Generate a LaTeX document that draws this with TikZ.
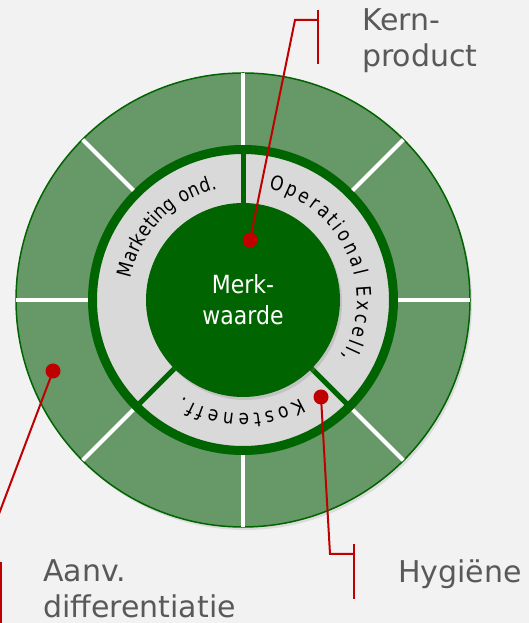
\documentclass[tikz,border=0pt]{standalone}
\usepackage{fontspec}
\setmainfont{DejaVu Sans}
\newfontfamily\narrowfont[FakeStretch=0.88]{DejaVu Sans}
\newfontfamily\ringfamily[FakeStretch=0.85]{DejaVu Sans}
\usetikzlibrary{calc,decorations.text,shadows}
\definecolor{gray1}{RGB}{89,89,89}
\definecolor{gray2}{RGB}{217,217,217}
\definecolor{gray3}{RGB}{242,242,242}
\definecolor{green1}{RGB}{0,100,0}
\definecolor{green2}{RGB}{103,152,103}
\definecolor{red1}{RGB}{192,0,0}
\newcommand{\ringsize}{\ringfamily\fontsize{20}{22}\selectfont}

\begin{document}
\begin{tikzpicture}[x=1pt, y=1pt,
				ringnode/.style=	{circle, inner sep=0pt},
				corenode/.style=	{ringnode, fill=green1, text=white, align=center, font=\narrowfont\fontsize{25}{31}\selectfont},
				spoke/.style=		{draw=white, line width=4pt, shorten >=1pt},
				divider/.style=		{draw=green1, line width=5pt},
				calldot/.style=		{circle, inner sep=0pt, minimum size=15pt, fill=red1},
				callout/.style=		{draw=red1, line width=2pt},
				calltext/.style=	{text=gray1, align=left, inner sep=0pt, font=\fontsize{30}{36}\selectfont},
				ringtext/.style=	{decorate, decoration={text along path, text align=fit to path, text={|\ringsize|#1}}}]
	\def\textrad{114}

	\clip (0,0) rectangle (529,623);
	\fill[gray3] (0,0) rectangle (529,623);
	\coordinate (C) at (243,323);

	\node[ringnode, fill=green2, draw=green1, line width=1.5pt, minimum size=454pt,
		drop shadow={opacity=0.2, shadow xshift=2pt, shadow yshift=-3pt}] (outer) at (C) {};
	\node[ringnode, fill=gray2, draw=green1, line width=9pt, minimum size=301pt] (ring) at (C) {};
	\foreach \a in {0,45,...,315}
		\draw[spoke] (ring.\a) -- (outer.\a);
	\foreach \a in {90,225,315}
		\draw[divider] (C) -- (ring.\a);
	\node[corenode, minimum size=194pt,
		drop shadow={opacity=0.25, shadow xshift=2pt, shadow yshift=-3pt}] (core) at (C) {Merk-\\waarde};

	% labels in the ring
	\path[ringtext={Marketing ond.}] ($(C)+(169:\textrad)$) arc[start angle=169, end angle=103, radius=\textrad];
	\path[ringtext={Operational Excell,}] ($(C)+(77:\textrad)$) arc[start angle=77, end angle=-30, radius=\textrad];
	\path[ringtext={Kosteneff.}] ($(C)+(-60:\textrad)$) arc[start angle=-60, end angle=-122, radius=\textrad];

	% callouts
	\node[calldot] (kerndot) at (250,383) {};
	\node[calldot] (hygdot) at (321,226) {};
	\node[calldot] (aanvdot) at (53,252) {};
	\coordinate (kernbend) at (295,603);
	\coordinate (kernbar) at (318,603);
	\coordinate (hygbend) at (330,69);
	\coordinate (hygbar) at (354,69);
	\coordinate (aanvbend) at (-23,51);
	\coordinate (aanvbar) at (0.5,51);
	\draw[callout] (kerndot.center) -- (kernbend) -- (kernbar);
	\draw[callout] ($(kernbar)+(0,10)$) -- ($(kernbar)+(0,-44)$);
	\draw[callout] (hygdot.center) -- (hygbend) -- (hygbar);
	\draw[callout] ($(hygbar)+(0,10)$) -- ($(hygbar)+(0,-45)$);
	\draw[callout] (aanvdot.center) -- (aanvbend) -- (aanvbar);
	\draw[callout] ($(aanvbar)+(0,10)$) -- ($(aanvbar)+(0,-60)$);

	\node[calltext, anchor=north west] (kern) at (362,615) {Kern-\\product};
	\node[calltext, anchor=base west] (hyg) at (398,40) {Hygiëne};
	\node[calltext, anchor=north west] (aanv) at (43,64) {Aanv.\\differentiatie};
\end{tikzpicture}
\end{document}
